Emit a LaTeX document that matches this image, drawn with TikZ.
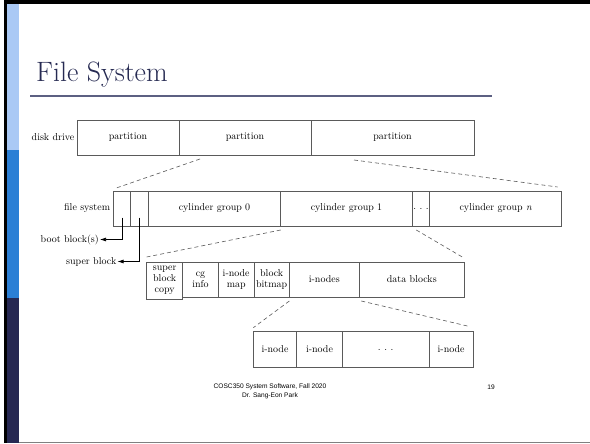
\documentclass[tikz,border=0pt]{standalone}
\usepackage{fontspec}
\newfontfamily\footfont{Liberation Sans}
\usetikzlibrary{arrows.meta}
\definecolor{titlenavy}{HTML}{262A52}
\definecolor{rulenavy}{HTML}{5C6082}
\definecolor{barlight}{HTML}{AAC9F5}
\definecolor{barmid}{HTML}{2B7FD5}
\definecolor{bardark}{HTML}{262852}
\definecolor{boxgray}{HTML}{5A5A5A}
\newcommand{\diagfont}{\fontsize{10}{11}\selectfont}
\newcommand{\spaceddots}{.\hspace{3.5pt}.\hspace{3.5pt}.}

\begin{document}
\begin{tikzpicture}[x=1pt,y=-1pt,
	cell/.style={draw=boxgray,line width=0.7pt,inner sep=0pt,outer sep=0pt,minimum height=35pt,align=center,font=\diagfont},
	lbl/.style={anchor=east,inner sep=1pt,font=\diagfont},
	zoomline/.style={draw=boxgray,line width=0.6pt,dash pattern=on 4pt off 3pt},
	ptr/.style={draw=black,line width=0.7pt,-{Latex[length=6pt,width=4pt]}}]
	
	\useasboundingbox (0,0) rectangle (590,444);
	\fill[white] (0,0) rectangle (590,444);
	
	% slide frame
	\fill[black] (4,0) rectangle (590,4.5);
	\fill[black] (4,0) rectangle (6.7,443);
	\fill[barlight] (6.7,4.5) rectangle (19,150);
	\fill[barmid] (6.7,150) rectangle (19,298);
	\fill[bardark] (6.7,298) rectangle (19,443);
	\draw[gray,line width=1.2pt] (19,442.5)--(590,442.5);
	
	\node[anchor=base west,inner sep=0pt,font=\fontsize{28}{30}\selectfont,text=titlenavy] (title) at (36,82) {File System};
	\draw[rulenavy,line width=1.6pt] (30,96)--(492,96);
	
	% disk drive
	\node[cell,minimum width=102pt] (part1) at (128,137.5) {partition};
	\node[cell,minimum width=132pt] (part2) at (245,137.5) {partition};
	\node[cell,minimum width=163pt] (part3) at (392.5,137.5) {partition};
	\node[lbl] (disklbl) at ([xshift=-1.5pt]part1.west) {disk drive};
	
	% file system
	\node[cell,minimum width=17.4pt] (boot) at (122,208.5) {};
	\node[cell,minimum width=17.6pt] (sup) at (139.5,208.5) {};
	\node[cell,minimum width=132.4pt] (cg0) at (214.5,208.5) {cylinder group 0};
	\node[cell,minimum width=131.6pt] (cg1) at (346.5,208.5) {cylinder group 1};
	\node[cell,minimum width=17.4pt] (dots) at (421,208.5) {\spaceddots};
	\node[cell,minimum width=132pt] (cgn) at (495.7,208.5) {cylinder group \textit{n}};
	\node[lbl] (fslbl) at ([xshift=-2pt]boot.west) {file system};
	
	\node[lbl] (bootlbl) at (100,239.5) {boot block(s)};
	\node[lbl] (suplbl) at (117.5,261.5) {super block};
	\draw[ptr] ([yshift=-9pt]boot.center) |- (bootlbl.east);
	\draw[ptr] ([yshift=-9pt]sup.center) |- (suplbl.east);
	
	\draw[zoomline] ([xshift=21pt,yshift=-4pt]part2.south west)--([xshift=3pt,yshift=3pt]boot.north west);
	\draw[zoomline] ([xshift=43pt,yshift=-5pt]part2.south east)--([xshift=-4pt,yshift=4pt]cgn.north east);
	
	% cylinder group
	\node[cell,minimum width=36pt,minimum height=37pt] (sbc) at (164.7,280.5) {super\\block\\copy};
	\node[cell,minimum width=35.6pt] (cgi) at (200.5,279.5) {cg\\info};
	\node[cell,minimum width=35.7pt] (imap) at (236.2,279.5) {i-node\\map};
	\node[cell,minimum width=35.3pt] (bbm) at (271.7,279.5) {block\\bitmap};
	\node[cell,minimum width=70pt] (ins) at (324.3,279.5) {i-nodes};
	\node[cell,minimum width=105pt] (data) at (411.8,279.5) {data blocks};
	
	\draw[zoomline] ([yshift=-4pt]cg0.south east)--([yshift=5pt]sbc.north west);
	\draw[zoomline] ([xshift=4pt,yshift=-4pt]dots.south west)--([xshift=-2pt,yshift=5pt]data.north east);
	
	% i-nodes
	\node[cell,minimum width=43.4pt,minimum height=35.6pt] (in1) at (275,349.5) {i-node};
	\node[cell,minimum width=45.6pt,minimum height=35.6pt] (in2) at (319.5,349.5) {i-node};
	\node[cell,minimum width=86.7pt,minimum height=35.6pt] (indots) at (385.65,349.5) {\spaceddots};
	\node[cell,minimum width=44.3pt,minimum height=35.6pt] (in4) at (451.15,349.5) {i-node};
	
	\draw[zoomline] ([yshift=-4pt]bbm.south east)--([yshift=4pt]in1.north west);
	\draw[zoomline] ([xshift=2pt,yshift=-4pt]ins.south east)--([xshift=-3pt,yshift=5pt]in4.north east);
	
	% footer
	\node[font=\footfont\fontsize{6.6}{9}\selectfont,align=center] (footer) at (270,391.5) {COSC350 System Software, Fall 2020\\Dr. Sang-Eon Park};
	\node[font=\footfont\fontsize{6.6}{9}\selectfont] (pagenum) at (491,387) {19};
\end{tikzpicture}
\end{document}
